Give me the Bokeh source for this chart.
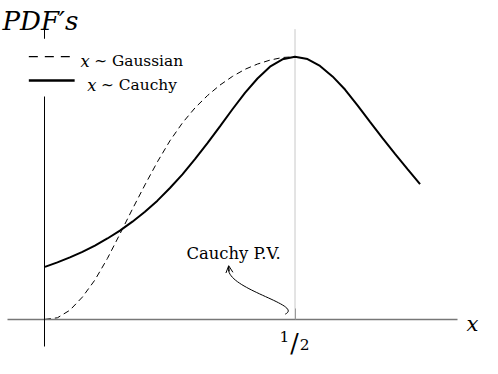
from bokeh.plotting import figure
from bokeh.models import LinearAxis, FixedTicker, BoxAnnotation, Label, Arrow, OpenHead, Range1d
from bokeh.embed import file_html
from bokeh.resources import INLINE

# ---- data ----
x_cauchy = [0.0, 0.025, 0.05, 0.075, 0.1, 0.125, 0.15, 0.175, 0.2, 0.225, 0.25,
            0.275, 0.3, 0.325, 0.35, 0.375, 0.4, 0.425, 0.45, 0.475, 0.5,
            0.525, 0.55, 0.575, 0.6, 0.625, 0.65, 0.675, 0.7, 0.725, 0.75]
y_cauchy = [0.200, 0.217, 0.236, 0.257, 0.281, 0.308, 0.338, 0.372, 0.410, 0.452, 0.500,
            0.552, 0.610, 0.671, 0.735, 0.800, 0.862, 0.917, 0.962, 0.990, 1.000,
            0.991, 0.965, 0.925, 0.875, 0.815, 0.752, 0.690, 0.630, 0.572, 0.515]

x_gauss = [0.0, 0.025, 0.05, 0.075, 0.1, 0.125, 0.15, 0.175, 0.2, 0.225, 0.25,
           0.275, 0.3, 0.325, 0.35, 0.375, 0.4, 0.425, 0.45, 0.475, 0.5]
y_gauss = [0.0, 0.006, 0.035, 0.085, 0.150, 0.232, 0.325, 0.420, 0.512, 0.600, 0.680,
           0.748, 0.805, 0.852, 0.892, 0.925, 0.952, 0.972, 0.987, 0.997, 1.000]

legend_names = ["Gaussian", "Cauchy"]
tick_positions = [0.5]
tick_num, tick_den = "1", "2"
y_axis_name = "PDF\u2032s"
x_axis_name = "x"
note_text = "Cauchy P.V."

SERIF = "DejaVu Serif"

# ---- layout ----
# The figure must fit a 498x374 window with an 8px page margin.
W, H = 482, 358
# Reference-picture pixel positions are squeezed slightly so the whole fits.
SX, SY = 0.975, 0.95
OX, OY = 8.0, 5.0        # reference pixel shown at figure pixel (FX, FY)
FX, FY = 2.0, 3.0
FS = 0.965               # font scale
X0_PX, X_SCALE = 51.5, 513.0   # reference px of x=0, px per unit
Y0_PX, Y_SCALE = 337.5, 276.5  # reference px of y=0, px per unit


def dx(px):
    return (px - X0_PX) / X_SCALE


def dy(py):
    return (Y0_PX - py) / Y_SCALE


def fs(size):
    return "%.1fpx" % (size * FS)


x_lo = dx(OX - FX / SX)
x_hi = dx(OX + (W - FX) / SX)
y_top = dy(OY - FY / SY)
y_bot = dy(OY + (H - FY) / SY)

p = figure(width=W, height=H,
           x_range=Range1d(x_lo, x_hi), y_range=Range1d(y_bot, y_top),
           output_backend="svg", toolbar_location=None,
           x_axis_type=None, y_axis_type=None, min_border=0)
p.outline_line_color = None
p.background_fill_color = "white"

xaxis = LinearAxis(fixed_location=0, bounds=(dx(13), dx(475)),
                   ticker=FixedTicker(ticks=tick_positions),
                   major_label_overrides={t: "" for t in tick_positions},
                   major_label_standoff=0,
                   axis_line_color="#777777", axis_line_width=1.6,
                   major_tick_in=11, major_tick_out=0,
                   major_tick_line_color="#999999", minor_tick_line_color=None)
p.add_layout(xaxis, "below")

yaxis = LinearAxis(fixed_location=0, bounds=(dy(366), dy(32)),
                   ticker=FixedTicker(ticks=[]), major_label_standoff=0,
                   axis_line_color="black", axis_line_width=1,
                   major_tick_line_color=None, minor_tick_line_color=None,
                   major_label_text_font_size="0px")
p.add_layout(yaxis, "left")

# vertical guide at the tick
p.segment(x0=tick_positions, y0=[0] * len(tick_positions), x1=tick_positions,
          y1=[dy(32)] * len(tick_positions), line_color="#c8c8c8", line_width=1)

# curves
p.line(x_gauss, y_gauss, line_color="black", line_width=1, line_dash="6 4")
p.line(x_cauchy, y_cauchy, line_color="black", line_width=2)

# annotation arrow
p.bezier(x0=[dx(298)], y0=[dy(332)], x1=[dx(240)], y1=[dy(282)],
         cx0=[dx(318)], cy0=[dy(322)], cx1=[dx(234)], cy1=[dy(305)],
         line_color="black", line_width=1)
p.add_layout(Arrow(end=OpenHead(size=7, line_width=1, line_color="black"),
                   x_start=dx(240.6), y_start=dy(287), x_end=dx(240), y_end=dy(281),
                   line_width=1, line_color="black"))

# legend
p.add_layout(BoxAnnotation(left=dx(30), right=dx(214), top=dy(42), bottom=dy(103),
                           fill_color="white", fill_alpha=1, line_color=None))
p.line([dx(35), dx(77)], [dy(61), dy(61)], line_color="black", line_width=1.2,
       line_dash="9 7", level="overlay")
p.line([dx(35), dx(82)], [dy(86), dy(86)], line_color="black", line_width=2.5,
       level="overlay")

rows = [(88, 66), (95, 91)]
for name, (lx, ly) in zip(legend_names, rows):
    p.add_layout(Label(x=dx(lx), y=dy(ly), text="x", text_font=SERIF,
                       text_font_style="italic", text_font_size=fs(17), text_color="black",
                       text_baseline="alphabetic", text_align="left"))
    p.add_layout(Label(x=dx(lx + 14), y=dy(ly), text="\u223c " + name, text_font=SERIF,
                       text_font_size=fs(16), text_color="black",
                       text_baseline="alphabetic", text_align="left"))

# axis names
p.add_layout(Label(x=dx(8), y=dy(23), text=y_axis_name, text_font=SERIF,
                   text_font_style="italic", text_font_size=fs(27), text_color="black",
                   text_baseline="alphabetic", text_align="left"))
p.add_layout(Label(x=dx(484), y=dy(342), text=x_axis_name, text_font=SERIF,
                   text_font_style="italic", text_font_size=fs(22), text_color="black",
                   text_baseline="alphabetic", text_align="left"))

# tick label 1/2
p.add_layout(Label(x=dx(297), y=dy(355), text=tick_num, text_font=SERIF,
                   text_font_size=fs(16), text_color="black",
                   text_baseline="alphabetic", text_align="center"))
p.add_layout(Label(x=dx(307.5), y=dy(363), text="/", text_font=SERIF,
                   text_font_size=fs(26), text_color="black",
                   text_baseline="alphabetic", text_align="center"))
p.add_layout(Label(x=dx(318), y=dy(364), text=tick_den, text_font=SERIF,
                   text_font_size=fs(16), text_color="black",
                   text_baseline="alphabetic", text_align="center"))

# note
p.add_layout(Label(x=dx(245), y=dy(268), text=note_text, text_font=SERIF,
                   text_font_size=fs(17), text_color="black",
                   text_baseline="alphabetic", text_align="center"))

open("out.html", "w").write(file_html(p, INLINE))
